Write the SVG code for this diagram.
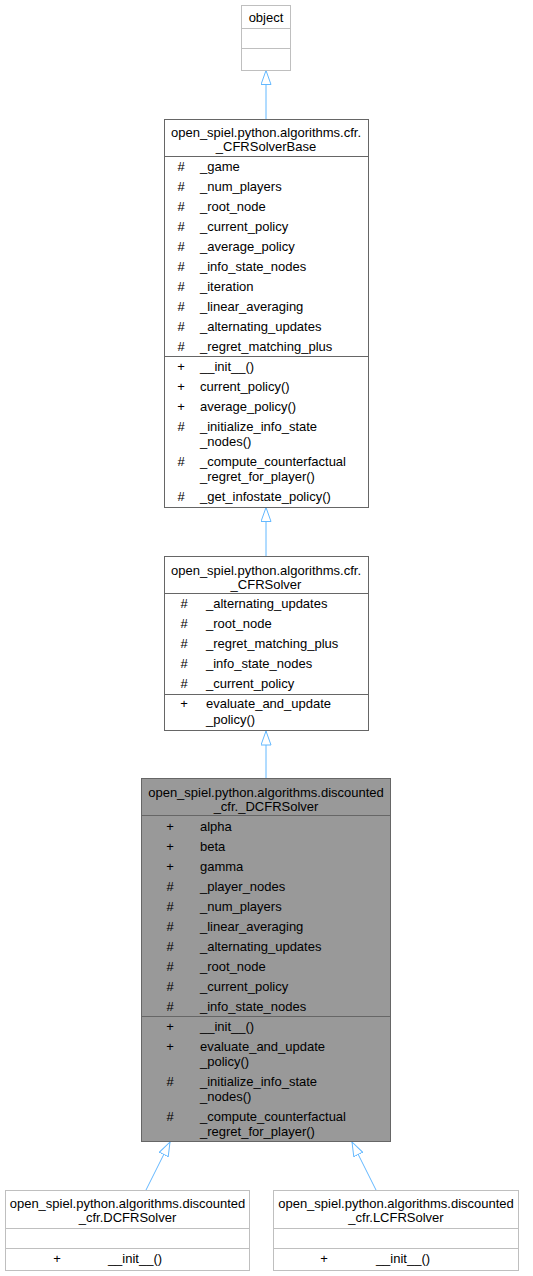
<svg xmlns="http://www.w3.org/2000/svg" width="533" height="1276" viewBox="0 0 533 1276">
<style>
text{font-family:"Liberation Sans",Arial,sans-serif;font-size:13px;fill:#000}
.t{text-anchor:middle}
.s{text-anchor:middle}
.box{fill:#fff;stroke:#666;stroke-width:1}
.lt{fill:#fff;stroke:#bfbfbf;stroke-width:1}
.cur{fill:#999;stroke:#666;stroke-width:1}
.sep{stroke:#666;stroke-width:1}
.sepl{stroke:#bfbfbf;stroke-width:1}
.edge{fill:none;stroke:#63b8ff;stroke-width:1;marker-start:url(#tri)}
</style>
<defs>
<marker id="tri" viewBox="0 0 15 11" refX="14.5" refY="5.5" markerWidth="15" markerHeight="11" orient="auto-start-reverse" markerUnits="userSpaceOnUse">
<path d="M14.5,5.5 L0.5,0.5 L0.5,10.5 Z" fill="#fff" stroke="#63b8ff" stroke-width="1"/>
</marker>
</defs>
<rect width="533" height="1276" fill="#fff"/>
<g id="connectors">
<path class="edge" d="M266,70.5 L266,119"/>
<path class="edge" d="M266,507.5 L266,556"/>
<path class="edge" d="M266,731 L266,778"/>
<path class="edge" d="M170,1142 L146,1190"/>
<path class="edge" d="M352,1142 L376,1190"/>
</g>
<g id="object">
<rect class="lt" x="241.5" y="5.5" width="49" height="65"/>
<line class="sepl" x1="241.5" y1="28.5" x2="290.5" y2="28.5"/>
<line class="sepl" x1="241.5" y1="48.5" x2="290.5" y2="48.5"/>
<text class="t" x="266" y="22">object</text>
</g>
<g id="CFRSolverBase">
<rect class="box" x="164.5" y="119.5" width="204" height="388"/>
<line class="sep" x1="164.5" y1="156.5" x2="368.5" y2="156.5"/>
<line class="sep" x1="164.5" y1="356.5" x2="368.5" y2="356.5"/>
<text class="t" x="266" y="137">open_spiel.python.algorithms.cfr.</text>
<text class="t" x="266" y="151">_CFRSolverBase</text>
<text class="s" x="181" y="171">#</text><text x="200" y="171">_game</text>
<text class="s" x="181" y="191">#</text><text x="200" y="191">_num_players</text>
<text class="s" x="181" y="211">#</text><text x="200" y="211">_root_node</text>
<text class="s" x="181" y="231">#</text><text x="200" y="231">_current_policy</text>
<text class="s" x="181" y="251">#</text><text x="200" y="251">_average_policy</text>
<text class="s" x="181" y="271">#</text><text x="200" y="271">_info_state_nodes</text>
<text class="s" x="181" y="291">#</text><text x="200" y="291">_iteration</text>
<text class="s" x="181" y="311">#</text><text x="200" y="311">_linear_averaging</text>
<text class="s" x="181" y="331">#</text><text x="200" y="331">_alternating_updates</text>
<text class="s" x="181" y="351">#</text><text x="200" y="351">_regret_matching_plus</text>
<text class="s" x="181" y="371">+</text><text x="200" y="371">__init__()</text>
<text class="s" x="181" y="391">+</text><text x="200" y="391">current_policy()</text>
<text class="s" x="181" y="411">+</text><text x="200" y="411">average_policy()</text>
<text class="s" x="181" y="431">#</text><text x="200" y="431">_initialize_info_state</text>
<text x="200" y="446">_nodes()</text>
<text class="s" x="181" y="466">#</text><text x="200" y="466">_compute_counterfactual</text>
<text x="200" y="481">_regret_for_player()</text>
<text class="s" x="181" y="501">#</text><text x="200" y="501">_get_infostate_policy()</text>
</g>
<g id="CFRSolver">
<rect class="box" x="164.5" y="556.5" width="204" height="174"/>
<line class="sep" x1="164.5" y1="593.5" x2="368.5" y2="593.5"/>
<line class="sep" x1="164.5" y1="694.5" x2="368.5" y2="694.5"/>
<text class="t" x="266" y="575">open_spiel.python.algorithms.cfr.</text>
<text class="t" x="266" y="589">_CFRSolver</text>
<text class="s" x="184" y="608">#</text><text x="206" y="608">_alternating_updates</text>
<text class="s" x="184" y="628">#</text><text x="206" y="628">_root_node</text>
<text class="s" x="184" y="648">#</text><text x="206" y="648">_regret_matching_plus</text>
<text class="s" x="184" y="668">#</text><text x="206" y="668">_info_state_nodes</text>
<text class="s" x="184" y="688">#</text><text x="206" y="688">_current_policy</text>
<text class="s" x="184" y="708">+</text><text x="206" y="708">evaluate_and_update</text>
<text x="206" y="724">_policy()</text>
</g>
<g id="DCFRSolverBase">
<rect class="cur" x="141.5" y="778.5" width="249" height="363"/>
<line class="sep" x1="141.5" y1="815.5" x2="390.5" y2="815.5"/>
<line class="sep" x1="141.5" y1="1016.5" x2="390.5" y2="1016.5"/>
<text class="t" x="266" y="797">open_spiel.python.algorithms.discounted</text>
<text class="t" x="266" y="811">_cfr._DCFRSolver</text>
<text class="s" x="170" y="831">+</text><text x="200" y="831">alpha</text>
<text class="s" x="170" y="851">+</text><text x="200" y="851">beta</text>
<text class="s" x="170" y="871">+</text><text x="200" y="871">gamma</text>
<text class="s" x="170" y="891">#</text><text x="200" y="891">_player_nodes</text>
<text class="s" x="170" y="911">#</text><text x="200" y="911">_num_players</text>
<text class="s" x="170" y="931">#</text><text x="200" y="931">_linear_averaging</text>
<text class="s" x="170" y="951">#</text><text x="200" y="951">_alternating_updates</text>
<text class="s" x="170" y="971">#</text><text x="200" y="971">_root_node</text>
<text class="s" x="170" y="991">#</text><text x="200" y="991">_current_policy</text>
<text class="s" x="170" y="1011">#</text><text x="200" y="1011">_info_state_nodes</text>
<text class="s" x="170" y="1031">+</text><text x="200" y="1031">__init__()</text>
<text class="s" x="170" y="1051">+</text><text x="200" y="1051">evaluate_and_update</text>
<text x="200" y="1066">_policy()</text>
<text class="s" x="170" y="1086">#</text><text x="200" y="1086">_initialize_info_state</text>
<text x="200" y="1101">_nodes()</text>
<text class="s" x="170" y="1121">#</text><text x="200" y="1121">_compute_counterfactual</text>
<text x="200" y="1136">_regret_for_player()</text>
</g>
<g id="DCFRSolver">
<rect class="lt" x="5.5" y="1190.5" width="244" height="80"/>
<line class="sepl" x1="5.5" y1="1228.5" x2="249.5" y2="1228.5"/>
<line class="sepl" x1="5.5" y1="1248.5" x2="249.5" y2="1248.5"/>
<text class="t" x="127.5" y="1208">open_spiel.python.algorithms.discounted</text>
<text class="t" x="127.5" y="1222">_cfr.DCFRSolver</text>
<text class="s" x="57" y="1263">+</text><text class="t" x="135" y="1263">__init__()</text>
</g>
<g id="LCFRSolver">
<rect class="lt" x="273.5" y="1190.5" width="245" height="80"/>
<line class="sepl" x1="273.5" y1="1228.5" x2="518.5" y2="1228.5"/>
<line class="sepl" x1="273.5" y1="1248.5" x2="518.5" y2="1248.5"/>
<text class="t" x="396" y="1208">open_spiel.python.algorithms.discounted</text>
<text class="t" x="396" y="1222">_cfr.LCFRSolver</text>
<text class="s" x="324" y="1263">+</text><text class="t" x="403" y="1263">__init__()</text>
</g>
</svg>
